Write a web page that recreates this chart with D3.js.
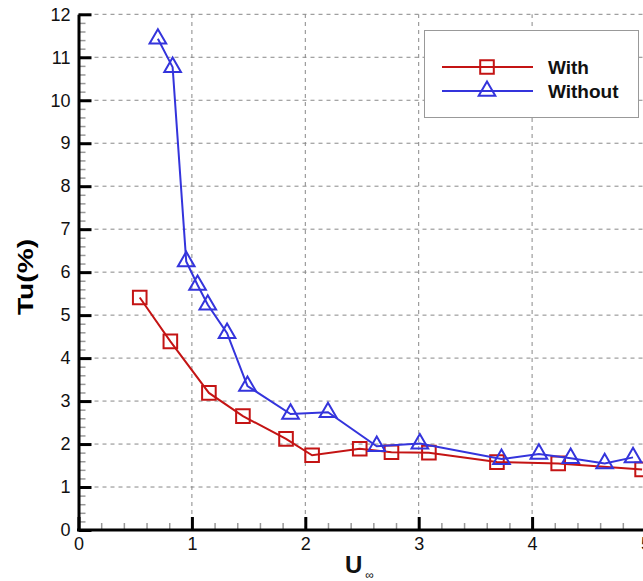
<!DOCTYPE html>
<html lang="en">
  <head>
    <meta charset="UTF-8" />
    <style>
      body { margin: 0; background: #fff; }
      svg { font-family: "Liberation Sans", Arial, sans-serif; display: block; }
      .grid line { stroke: #888; stroke-dasharray: 4, 4; stroke-width: 1; }
      .axis text { font-size: 18px; fill: #111; }
    </style>
    <script src="https://d3js.org/d3.v7.min.js"></script>
  </head>
  <body>
    <script>
      // values
      var withX = [0.54, 0.81, 1.15, 1.45, 1.83, 2.06, 2.48, 2.76, 3.09, 3.69, 4.23, 4.97];
      var withY = [5.41, 4.39, 3.19, 2.65, 2.12, 1.74, 1.89, 1.81, 1.80, 1.58, 1.55, 1.41];
      var withoutX = [0.70, 0.83, 0.95, 1.05, 1.14, 1.31, 1.49, 1.87, 2.20, 2.63, 3.01, 3.73, 4.06, 4.34, 4.64, 4.89];
      var withoutY = [11.43, 10.77, 6.25, 5.70, 5.24, 4.58, 3.35, 2.70, 2.74, 1.95, 2.01, 1.65, 1.77, 1.67, 1.55, 1.69];
      var xTicks = [0, 1, 2, 3, 4, 5];
      var yTicks = [0, 1, 2, 3, 4, 5, 6, 7, 8, 9, 10, 11, 12];
      var seriesNames = ["With", "Without"];
      var colors = ["#c41414", "#3434dc"];

      var width = 643, height = 581;
      var svg = d3.select("body").append("svg")
        .attr("width", width).attr("height", height);

      var x = d3.scaleLinear().domain([0, 5]).range([78.5, 645.5]);
      var y = d3.scaleLinear().domain([0, 12]).range([530, 14.3]);

      var minorX = d3.range(0, 5.01, 0.2).filter(function (v) { return Math.abs(v - Math.round(v)) > 0.01; });
      var minorY = d3.range(0, 12.01, 0.2).filter(function (v) { return Math.abs(v - Math.round(v)) > 0.01; });

      // grid
      var grid = svg.append("g").attr("class", "grid");
      grid.selectAll(".gy").data(yTicks.slice(1)).enter().append("line")
        .attr("x1", x(0)).attr("x2", width)
        .attr("y1", function (d) { return y(d); }).attr("y2", function (d) { return y(d); });
      grid.selectAll(".gx").data(xTicks.slice(1)).enter().append("line")
        .attr("y1", y(0)).attr("y2", y(12))
        .attr("x1", function (d) { return x(d); }).attr("x2", function (d) { return x(d); });

      // minor ticks
      svg.append("g").attr("transform", "translate(" + x(0) + ",0)")
        .call(d3.axisLeft(y).tickValues(minorY).tickSize(-7).tickFormat(""))
        .call(function (g) {
          g.select(".domain").remove();
          g.selectAll("line").attr("stroke", "#999").attr("stroke-width", 1.5);
        });
      svg.append("g").attr("transform", "translate(0," + y(0) + ")")
        .call(d3.axisBottom(x).tickValues(minorX).tickSize(-7).tickFormat(""))
        .call(function (g) {
          g.select(".domain").remove();
          g.selectAll("line").attr("stroke", "#999").attr("stroke-width", 1.5);
        });

      // major axes
      svg.append("g").attr("class", "axis").attr("transform", "translate(" + x(0) + ",0)")
        .call(d3.axisLeft(y).tickValues(yTicks).tickSizeInner(-13).tickSizeOuter(0).tickPadding(8).tickFormat(d3.format("d")))
        .call(function (g) {
          g.select(".domain").attr("stroke", "#000").attr("stroke-width", 3);
          g.selectAll(".tick line").attr("stroke", "#000").attr("stroke-width", 3);
          g.selectAll("text").attr("font-family", "Liberation Sans, Arial, sans-serif").attr("font-size", 18);
        });
      svg.append("g").attr("class", "axis").attr("transform", "translate(0," + y(0) + ")")
        .call(d3.axisBottom(x).tickValues(xTicks).tickSizeInner(-13).tickSizeOuter(0).tickPadding(7).tickFormat(d3.format("d")))
        .call(function (g) {
          g.select(".domain").attr("stroke", "#000").attr("stroke-width", 3).attr("d", "M" + (x(0) - 1.5) + ",0H" + width);
          g.selectAll(".tick line").attr("stroke", "#000").attr("stroke-width", 3);
          g.selectAll("text").attr("font-family", "Liberation Sans, Arial, sans-serif").attr("font-size", 18);
        });

      // series
      var series = [
        withX.map(function (d, i) { return [d, withY[i]]; }),
        withoutX.map(function (d, i) { return [d, withoutY[i]]; })
      ];
      var line = d3.line().x(function (d) { return x(d[0]); }).y(function (d) { return y(d[1]); });
      var square = d3.symbol().type(d3.symbolSquare).size(185);
      var tri = d3.symbol().type(d3.symbolTriangle).size(120);

      series.forEach(function (s, i) {
        svg.append("path").datum(s).attr("d", line)
          .attr("fill", "none").attr("stroke", colors[i]).attr("stroke-width", 2);
        svg.selectAll(".m" + i).data(s).enter().append("path")
          .attr("transform", function (d) { return "translate(" + x(d[0]) + "," + y(d[1]) + ")"; })
          .attr("d", i === 0 ? square : tri)
          .attr("fill", "none").attr("stroke", colors[i]).attr("stroke-width", 2);
      });

      // legend
      var lg = svg.append("g");
      lg.append("rect").attr("x", 424.5).attr("y", 30.5).attr("width", 214).attr("height", 87)
        .attr("fill", "#fff").attr("stroke", "#999").attr("stroke-width", 1);
      seriesNames.forEach(function (name, i) {
        var ly = 67 + i * 24;
        lg.append("line").attr("x1", 442).attr("x2", 533).attr("y1", ly).attr("y2", ly)
          .attr("stroke", colors[i]).attr("stroke-width", 2);
        lg.append("path").attr("transform", "translate(487," + ly + ")")
          .attr("d", i === 0 ? square : tri)
          .attr("fill", "none").attr("stroke", colors[i]).attr("stroke-width", 2);
        lg.append("text").attr("x", 548).attr("y", ly + 6.5)
          .attr("font-size", 19).attr("font-weight", "bold").attr("fill", "#111").text(name);
      });

      // axis titles
      svg.append("text").attr("transform", "translate(33,277) rotate(-90) scale(1.28,1)")
        .attr("text-anchor", "middle").attr("font-size", 22).attr("font-weight", "bold")
        .text("Tu(%)");
      var ut = svg.append("text").attr("x", 345).attr("y", 573).attr("font-size", 24)
        .attr("font-weight", "bold").attr("fill", "#111");
      ut.append("tspan").text("U");
      ut.append("tspan").attr("dx", 3).attr("dy", 6).attr("font-size", 12).attr("font-weight", "normal").text("\u221e");
    </script>
  </body>
</html>
